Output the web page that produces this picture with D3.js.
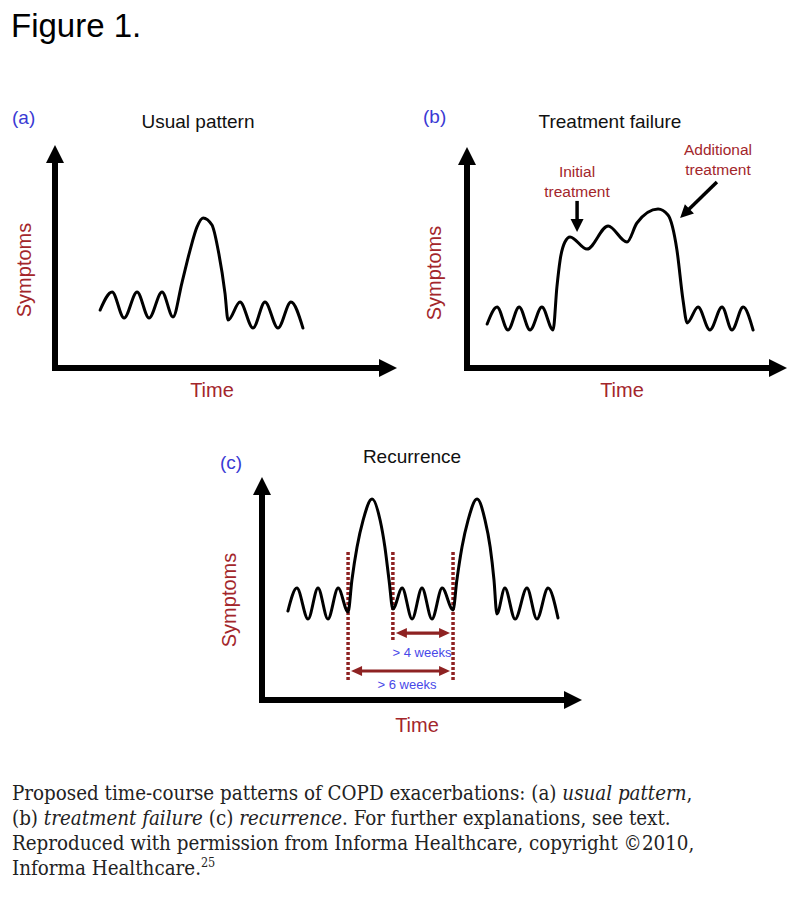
<!DOCTYPE html>
<html>
<head>
<meta charset="utf-8">
<script src="https://cdn.jsdelivr.net/npm/d3@7"></script>
<style>
  html, body { margin: 0; padding: 0; background: #ffffff; }
  svg { display: block; }
</style>
</head>
<body>
<script>
// ---------------- data (time, symptoms) in 0..100 axis units ----------------
const panelLetters = ["(a)", "(b)", "(c)"];
const panelTitles = ["Usual pattern", "Treatment failure", "Recurrence"];
const axisLabels = ["Symptoms", "Time"];

const curveA = [
  [13.2, 26.0], [16.7, 34.1], [20.2, 22.4], [24.0, 34.1], [27.5, 22.4], [31.3, 34.1],
  [34.5, 22.9], [37.1, 38.1], [39.5, 52.9], [41.5, 63.2], [43.3, 67.3], [45.9, 64.1],
  [47.7, 52.9], [49.7, 33.6], [50.6, 21.5], [54.1, 29.6], [57.9, 17.9], [61.4, 29.6],
  [65.2, 17.9], [69.0, 29.6], [72.5, 17.9]
];

const curveB = [
  [6.3, 19.9], [9.4, 27.6], [12.8, 17.2], [16.3, 27.6], [19.7, 17.2], [23.4, 27.6],
  [26.9, 17.2], [28.1, 36.7], [29.1, 48.9], [30.6, 57.0], [32.2, 59.3], [37.5, 53.8],
  [44.1, 64.3], [50.0, 57.0], [53.1, 65.6], [59.7, 71.9], [62.8, 69.2], [65.6, 53.4],
  [67.5, 30.8], [68.8, 20.4], [72.2, 27.6], [75.9, 17.2], [79.7, 27.6], [82.8, 17.2],
  [86.3, 27.6], [89.4, 17.2]
];

const curveC = [
  [8.1, 39.9], [10.9, 50.2], [14.4, 36.3], [17.5, 50.2], [20.6, 36.3], [23.8, 50.2],
  [26.9, 39.5], [28.1, 53.8], [29.7, 68.6], [31.6, 80.7], [34.4, 90.1], [36.9, 80.7],
  [38.4, 68.6], [39.7, 53.8], [40.9, 40.8], [43.8, 50.2], [46.9, 36.3], [50.0, 50.2],
  [53.1, 36.3], [56.3, 50.2], [59.7, 40.4], [60.9, 53.8], [62.5, 68.6], [64.4, 80.7],
  [67.2, 90.1], [69.7, 80.7], [71.3, 68.6], [72.5, 53.8], [73.4, 38.6], [75.9, 50.2],
  [79.1, 36.3], [82.8, 50.2], [85.9, 36.3], [89.4, 50.2], [92.5, 36.8]
];

// panel (b) annotations: label lines, arrow start [t,s], arrow end [t,s]
const noteLabels = [["Initial", "treatment"], ["Additional", "treatment"]];
const noteArrowFrom = [[34.4, 75.6], [78.1, 84.2]];
const noteArrowTo = [[34.4, 61.5], [66.6, 67.9]];

// panel (c): dotted interval markers (time), their lower ends (symptoms)
const markerTimes = [26.9, 40.9, 59.7];
const markerBottoms = [9.0, 26.0, 9.0];
const markerTop = 66.4;
// interval arrows
const intervalFrom = [40.9, 26.9];
const intervalTo = [59.7, 59.7];
const intervalLevel = [30.0, 13.0];
const intervalLabels = ["> 4 weeks", "> 6 weeks"];

const captionLines = [
  [["Proposed time-course patterns of COPD exacerbations: (a) ", false], ["usual pattern", true], [",", false]],
  [["(b) ", false], ["treatment failure", true], [" (c) ", false], ["recurrence", true], [". For further explanations, see text.", false]],
  [["Reproduced with permission from Informa Healthcare, copyright \u00A92010,", false]],
  [["Informa Healthcare.", false]]
];

// ---------------- layout ----------------
const W = 800, H = 919;
const BLUE = "#3a3ad4";
const RED = "#a3262b";
const DOT = "#8e2222";
const SANS = "'Liberation Sans', Arial, Helvetica, sans-serif";

const frames = [
  { ox: 55, oy: 368, xe: 397, ye: 145, letterX: 12, letterY: 124, titleX: 198, titleY: 128, symX: 31, symY: 270, timeX: 212, timeY: 397 },
  { ox: 467, oy: 368, xe: 787, ye: 147, letterX: 423, letterY: 123, titleX: 610, titleY: 128, symX: 441, symY: 273, timeX: 622, timeY: 397 },
  { ox: 262, oy: 700, xe: 582, ye: 477, letterX: 220, letterY: 469, titleX: 412, titleY: 463, symX: 236, symY: 600, timeX: 417, timeY: 732 }
];
const curves = [curveA, curveB, curveC];

const svg = d3.select("body").append("svg").attr("width", W).attr("height", H);

svg.append("text").attr("x", 11).attr("y", 37)
  .style("font-family", SANS).style("font-size", "33px").attr("fill", "#000")
  .text("Figure 1.");

const AX_W = 6, HEAD_L = 18, HEAD_HW = 9;

frames.forEach((f, i) => {
  const x = d3.scaleLinear().domain([0, 100]).range([f.ox, f.xe]);
  const y = d3.scaleLinear().domain([0, 100]).range([f.oy, f.ye]);
  const g = svg.append("g");
  f.x = x; f.y = y; f.g = g;

  // axes
  g.append("line").attr("x1", x(0)).attr("y1", y(0) + AX_W / 2).attr("x2", x(0)).attr("y2", y(100) + HEAD_L - 2)
    .attr("stroke", "#000").attr("stroke-width", AX_W);
  g.append("line").attr("x1", x(0) - AX_W / 2).attr("y1", y(0)).attr("x2", x(100) - HEAD_L + 2).attr("y2", y(0))
    .attr("stroke", "#000").attr("stroke-width", AX_W);
  g.append("path").attr("d", d3.line()([[x(0), y(100)], [x(0) - HEAD_HW, y(100) + HEAD_L], [x(0) + HEAD_HW, y(100) + HEAD_L]]) + "Z")
    .attr("fill", "#000");
  g.append("path").attr("d", d3.line()([[x(100), y(0)], [x(100) - HEAD_L, y(0) - HEAD_HW], [x(100) - HEAD_L, y(0) + HEAD_HW]]) + "Z")
    .attr("fill", "#000");

  // labels
  g.append("text").attr("x", f.letterX).attr("y", f.letterY)
    .style("font-family", SANS).style("font-size", "19px").attr("fill", BLUE).text(panelLetters[i]);
  g.append("text").attr("x", f.titleX).attr("y", f.titleY).attr("text-anchor", "middle")
    .style("font-family", SANS).style("font-size", "19px").attr("fill", "#111").text(panelTitles[i]);
  g.append("text").attr("transform", `translate(${f.symX},${f.symY}) rotate(-90)`).attr("text-anchor", "middle")
    .style("font-family", SANS).style("font-size", "20px").attr("fill", RED).text(axisLabels[0]);
  g.append("text").attr("x", f.timeX).attr("y", f.timeY).attr("text-anchor", "middle")
    .style("font-family", SANS).style("font-size", "20px").attr("fill", RED).text(axisLabels[1]);
});

// panel (c) dotted markers drawn under the curve
{
  const f = frames[2], x = f.x, y = f.y;
  markerTimes.forEach((t, k) => {
    f.g.append("line").attr("x1", x(t)).attr("x2", x(t)).attr("y1", y(markerTop)).attr("y2", y(markerBottoms[k]))
      .attr("stroke", DOT).attr("stroke-width", 3.5).attr("stroke-dasharray", "3,2");
  });
}

// curves
frames.forEach((f, i) => {
  const line = d3.line().x(d => f.x(d[0])).y(d => f.y(d[1])).curve(d3.curveMonotoneX);
  f.g.append("path").attr("d", line(curves[i])).attr("fill", "none")
    .attr("stroke", "#000").attr("stroke-width", 3).attr("stroke-linejoin", "round").attr("stroke-linecap", "round");
});

// panel (b) annotations
{
  const f = frames[1], x = f.x, y = f.y;
  const textX = [577, 718];
  const textY = [177, 155];
  noteLabels.forEach((lines, k) => {
    const tx = f.g.append("text").attr("text-anchor", "middle")
      .style("font-family", SANS).style("font-size", "15.5px").attr("fill", RED);
    lines.forEach((s, j) => tx.append("tspan").attr("x", textX[k]).attr("y", textY[k] + j * 20).text(s));

    const x1 = x(noteArrowFrom[k][0]), y1 = y(noteArrowFrom[k][1]);
    const x2 = x(noteArrowTo[k][0]), y2 = y(noteArrowTo[k][1]);
    const ang = Math.atan2(y2 - y1, x2 - x1);
    const hl = 13, hw = 6.5;
    const bx = x2 - hl * Math.cos(ang), by = y2 - hl * Math.sin(ang);
    f.g.append("line").attr("x1", x1).attr("y1", y1).attr("x2", bx + Math.cos(ang)).attr("y2", by + Math.sin(ang))
      .attr("stroke", "#000").attr("stroke-width", 3.5);
    f.g.append("path").attr("d", d3.line()([
      [x2, y2],
      [bx + hw * Math.sin(ang), by - hw * Math.cos(ang)],
      [bx - hw * Math.sin(ang), by + hw * Math.cos(ang)]
    ]) + "Z").attr("fill", "#000");
  });
}

// panel (c) interval arrows
{
  const f = frames[2], x = f.x, y = f.y;
  const labelX = [422, 407];
  const labelY = [657, 689];
  intervalFrom.forEach((t0, k) => {
    const x1 = x(t0) + 3, x2 = x(intervalTo[k]) - 3, yy = y(intervalLevel[k]);
    const hl = 11, hw = 5;
    f.g.append("line").attr("x1", x1 + hl - 1).attr("x2", x2 - hl + 1).attr("y1", yy).attr("y2", yy)
      .attr("stroke", DOT).attr("stroke-width", 3.2);
    f.g.append("path").attr("d", d3.line()([[x1, yy], [x1 + hl, yy - hw], [x1 + hl, yy + hw]]) + "Z").attr("fill", DOT);
    f.g.append("path").attr("d", d3.line()([[x2, yy], [x2 - hl, yy - hw], [x2 - hl, yy + hw]]) + "Z").attr("fill", DOT);
    f.g.append("text").attr("x", labelX[k]).attr("y", labelY[k]).attr("text-anchor", "middle")
      .style("font-family", SANS).style("font-size", "13px").attr("fill", "#4848e8").text(intervalLabels[k]);
  });
}

// caption
{
  const cap = svg.append("g");
  const inner = cap.append("g");
  let first = null;
  captionLines.forEach((parts, i) => {
    const t = inner.append("text").attr("x", 0).attr("y", 800 + i * 25)
      .style("font-family", "'DejaVu Serif Condensed', 'DejaVu Serif', serif")
      .style("font-stretch", "condensed")
      .style("font-size", "19.5px").attr("fill", "#222");
    parts.forEach(p => t.append("tspan").style("font-style", p[1] ? "italic" : "normal").text(p[0]));
    if (i === 3) {
      t.append("tspan").attr("dy", -8).style("font-size", "12px").text("25");
    }
    if (i === 0) first = t;
  });
  const wanted = 681;
  const got = first.node().getComputedTextLength();
  const sx = got > 0 ? wanted / got : 1;
  inner.attr("transform", `translate(12,0) scale(${sx},1)`);
}
</script>
</body>
</html>
